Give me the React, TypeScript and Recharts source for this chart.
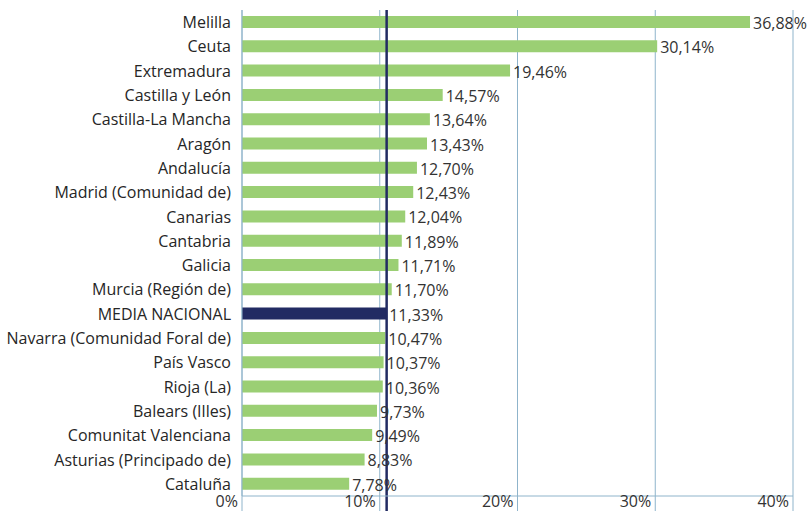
import React from "react";
import { BarChart, Bar, XAxis, YAxis, CartesianGrid, ReferenceLine, Cell, LabelList } from "recharts";

const regions = [
  "Melilla",
  "Ceuta",
  "Extremadura",
  "Castilla y León",
  "Castilla-La Mancha",
  "Aragón",
  "Andalucía",
  "Madrid (Comunidad de)",
  "Canarias",
  "Cantabria",
  "Galicia",
  "Murcia (Región de)",
  "MEDIA NACIONAL",
  "Navarra (Comunidad Foral de)",
  "País Vasco",
  "Rioja (La)",
  "Balears (Illes)",
  "Comunitat Valenciana",
  "Asturias (Principado de)",
  "Cataluña",
];

// bar lengths as drawn in the picture
const rates = [
  36.88, 30.14, 19.46, 14.57, 13.64, 13.43, 12.7, 12.43, 11.85, 11.6, 11.36, 10.87, 10.47, 10.4, 10.28,
  10.22, 9.8, 9.45, 8.9, 7.78,
];

// printed labels next to the bars
const rateLabels = [
  "36,88%", "30,14%", "19,46%", "14,57%", "13,64%", "13,43%", "12,70%", "12,43%", "12,04%", "11,89%",
  "11,71%", "11,70%", "11,33%", "10,47%", "10,37%", "10,36%", "9,73%", "9,49%", "8,83%", "7,78%",
];

const mediaLine = 10.5;
const xTicks = [0, 10, 20, 30, 40];

const data = regions.map((name, i) => ({ name, value: rates[i], label: rateLabels[i] }));

const GREEN = "#9BCF74";
const NAVY = "#222B63";
const GRID = "#8FB4CB";
const FONT = "'Open Sans', sans-serif";

const XTick = ({ x, payload }: any) => (
  <text x={x - 4} y={507} textAnchor="end" fontSize={16} fill="#333" fontFamily={FONT}>
    {payload.value}%
  </text>
);

const YTick = ({ x, y, payload }: any) => (
  <text x={x - 3} y={y} dy={6} textAnchor="end" fontSize={16} fill="#262626" fontFamily={FONT}>
    {payload.value}
  </text>
);

const ValueLabel = ({ x, y, width, height, value }: any) => (
  <text
    x={Number(x) + Number(width) + 3}
    y={Number(y) + Number(height) / 2 + 7}
    fontSize={16}
    fill="#333"
    fontFamily={FONT}
  >
    {value}
  </text>
);

const MediaLine = ({ x1, y1, y2 }: any) => (
  <line x1={x1} y1={Math.min(y1, y2)} x2={x1} y2={511} stroke={NAVY} strokeWidth={2.5} />
);

export default function App() {
  return (
    <div style={{ position: "absolute", left: 0, top: 0, width: 808, height: 511, background: "#fff" }}>
      <BarChart
        width={808}
        height={511}
        data={data}
        layout="vertical"
        margin={{ top: 10, right: 15, left: 0, bottom: 0 }}
      >
        <CartesianGrid horizontal={false} stroke={GRID} strokeWidth={1} />
        <XAxis
          type="number"
          dataKey="value"
          domain={[0, 40]}
          ticks={xTicks}
          interval={0}
          height={15}
          axisLine={{ stroke: GRID }}
          tickLine={{ stroke: GRID }}
          tickSize={15}
          tick={<XTick />}
        />
        <YAxis
          type="category"
          dataKey="name"
          width={242}
          interval={0}
          axisLine={{ stroke: GRID }}
          tickLine={false}
          tick={<YTick />}
        />
        <Bar dataKey="value" barSize={12} isAnimationActive={false}>
          {data.map((d) => (
            <Cell key={d.name} fill={d.name === "MEDIA NACIONAL" ? NAVY : GREEN} />
          ))}
          <LabelList dataKey="label" content={<ValueLabel />} />
        </Bar>
        <ReferenceLine x={mediaLine} stroke={NAVY} strokeWidth={2.5} shape={<MediaLine />} />
      </BarChart>
    </div>
  );
}
